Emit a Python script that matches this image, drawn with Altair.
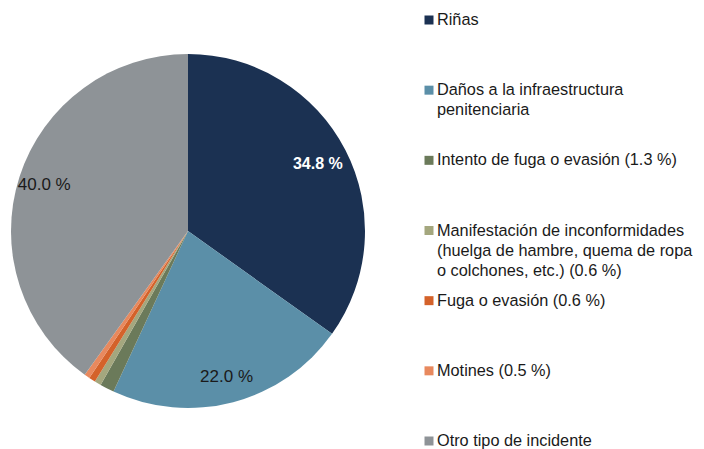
import altair as alt
import pandas as pd

categories = [
    "Riñas",
    "Daños a la infraestructura penitenciaria",
    "Intento de fuga o evasión",
    "Manifestación de inconformidades",
    "Fuga o evasión",
    "Motines",
    "Otro tipo de incidente",
]
values = [34.8, 22.0, 1.3, 0.6, 0.6, 0.5, 40.0]
legend_text = [
    "Riñas",
    "Daños a la infraestructura\npenitenciaria",
    "Intento de fuga o evasión (1.3 %)",
    "Manifestación de inconformidades\n(huelga de hambre, quema de ropa\no colchones, etc.) (0.6 %)",
    "Fuga o evasión (0.6 %)",
    "Motines (0.5 %)",
    "Otro tipo de incidente",
]
slice_labels = ["34.8 %", "22.0 %", "", "", "", "", "40.0 %"]
colors = ["#1b3152", "#5b8fa8", "#6b7a5a", "#a4a77e", "#d4622a", "#e8895e", "#8e9397"]

df = pd.DataFrame({
    "idx": list(range(len(categories))),
    "cat": categories,
    "value": values,
    "legend": legend_text,
    "lbl": slice_labels,
})

FONT = "Liberation Sans"
CX, CY, R = 180, 223, 177

color = alt.Color("cat:N", scale=alt.Scale(domain=categories, range=colors), legend=None)
theta = alt.Theta("value:Q", stack=True)
order = alt.Order("idx:Q", sort="ascending")

base = alt.Chart(df)

pie = base.mark_arc(outerRadius=R, stroke=None).encode(
    theta=theta, color=color, order=order,
    x=alt.value(CX), y=alt.value(CY),
)

lbl_white = base.transform_calculate(
    t="datum.idx == 0 ? datum.lbl : ''"
).mark_text(radius=146, font=FONT, fontSize=16, fontWeight="bold", color="white").encode(
    theta=theta, order=order, text="t:N", x=alt.value(CX), y=alt.value(CY),
)

lbl_dark = base.transform_calculate(
    t="datum.idx == 0 ? '' : datum.lbl"
).mark_text(radius=151, font=FONT, fontSize=17, color="#1a1a1a").encode(
    theta=theta, order=order, text="t:N", x=alt.value(CX), y=alt.value(CY),
)

yleg = alt.Y("idx:Q", scale=alt.Scale(domain=[0, 6], range=[12, 433]), axis=None)

leg_sq = base.mark_square(size=81, opacity=1).encode(
    x=alt.value(421), y=yleg, color=color,
)

leg_txt = base.mark_text(
    align="left", baseline="top", dy=-8, lineBreak="\n", lineHeight=20,
    font=FONT, fontSize=16.3, color="#1a1a1a",
).encode(
    x=alt.value(429), y=yleg, text="legend:N",
)

chart = alt.layer(pie, lbl_white, lbl_dark, leg_sq, leg_txt).properties(
    width=688, height=441, padding=0, autosize="none",
).configure_view(stroke=None)

chart.save("out.html", embed_options={"renderer": "svg", "actions": False})
